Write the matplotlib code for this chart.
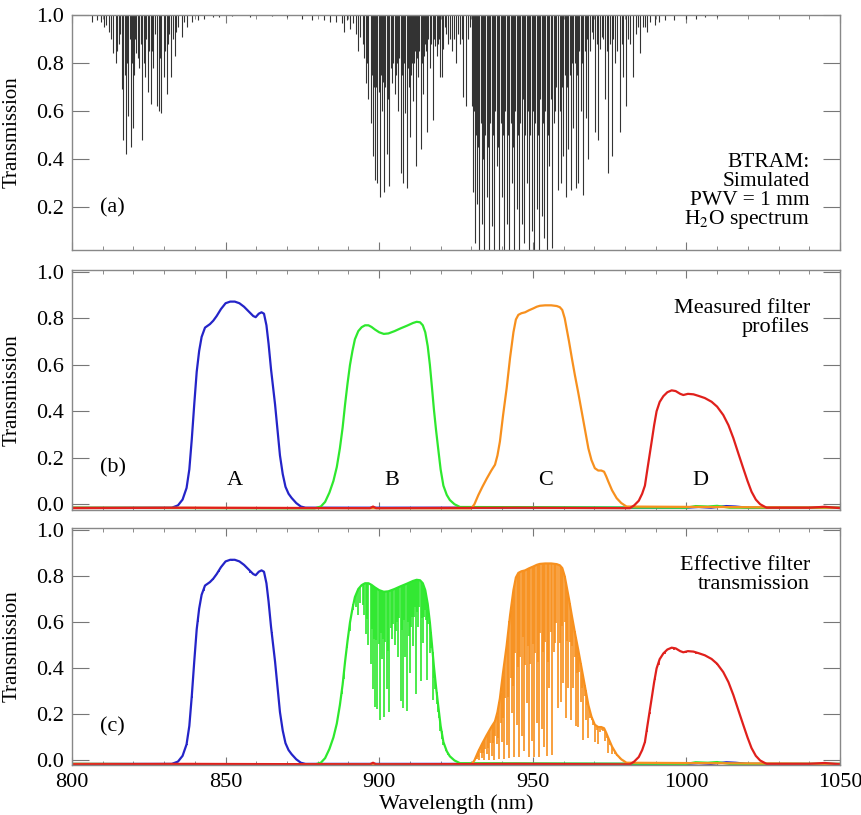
import numpy as np
import matplotlib.pyplot as plt
from matplotlib.ticker import MultipleLocator

plt.rcParams['font.family'] = ['Liberation Serif', 'DejaVu Serif']
plt.rcParams['mathtext.fontset'] = 'stix'

# ---------------- datos ----------------
# lineas de absorcion H2O (longitud de onda nm, transmision en el centro)
lin_wl = [
    # banda 810-845
    806.5, 808.0, 809.5, 810.5, 811.0, 812.2, 812.8, 813.4, 814.3, 814.7,
    815.2, 815.6, 816.2, 816.7, 817.2, 817.6, 818.0, 818.3, 818.8, 819.1,
    819.6, 820.0, 820.3, 820.5, 821.0, 821.4, 821.9, 822.4, 822.9, 823.3,
    823.8, 824.1, 824.6, 825.1, 825.6, 826.0, 826.5, 827.0, 827.6, 828.3,
    828.7, 829.0, 829.9, 830.3, 830.8, 831.1, 831.5, 832.2, 833.0, 833.5,
    834.0, 834.5, 835.7, 836.5, 837.3, 839.0, 841.0, 843.0, 846.0, 848.0,
    852.0, 858.0, 865.0, 870.0, 875.0, 878.0,
    # banda 880-930
    882.0, 884.0, 886.0, 887.8, 888.5, 889.5, 890.5, 891.6, 892.5, 893.2,
    893.8, 894.8, 895.2, 895.6, 896.0, 896.5, 897.2, 897.6, 897.9, 898.2,
    898.6, 899.0, 899.4, 899.8, 900.3, 900.7, 901.0, 901.3, 901.7, 902.0,
    902.4, 902.8, 903.3, 903.8, 904.1, 904.6, 905.1, 905.6, 905.9, 906.2,
    906.6, 907.0, 907.3, 907.6, 908.0, 908.4, 908.9, 909.4, 909.7, 910.0,
    910.3, 910.6, 911.1, 911.4, 911.6, 912.0, 912.4, 912.7, 913.0, 913.5,
    913.8, 914.4, 914.7, 914.9, 915.3, 915.7, 916.0, 916.5, 916.8, 917.4,
    917.9, 918.2, 918.7, 919.2, 919.5, 919.8, 920.3, 920.9, 921.4, 921.9,
    922.5, 923.0, 923.6, 924.3, 925.0, 925.6, 926.3, 926.9, 927.4, 928.3,
    928.8, 929.4,
    # banda 930-990
    930.1, 930.6, 930.9, 931.2, 931.5, 931.9, 932.2, 932.6, 933.0, 933.4,
    933.8, 934.1, 934.5, 935.0, 935.4, 935.8, 936.2, 936.6, 937.0, 937.4,
    937.8, 938.2, 938.6, 939.1, 939.5, 939.9, 940.2, 940.6, 941.0, 941.5,
    941.9, 942.4, 942.8, 943.1, 943.5, 943.9, 944.3, 944.8, 945.2, 945.6,
    946.0, 946.4, 946.8, 947.1, 947.6, 948.0, 948.4, 948.9, 949.2, 949.6,
    950.0, 950.4, 950.8, 951.3, 951.7, 952.1, 952.5, 952.9, 953.2, 953.6,
    954.0, 954.5, 954.9, 955.3, 955.8, 956.4, 956.8, 957.2, 957.7, 958.3,
    958.7, 959.2, 959.6, 959.9, 960.4, 960.8, 961.2, 961.6, 962.0, 962.4,
    962.8, 963.2, 963.6, 964.0, 964.4, 964.8, 965.2, 965.6, 966.0, 966.5,
    966.9, 967.2, 967.7, 968.1, 968.6, 969.2, 969.7, 970.2, 970.8, 971.3,
    971.8, 972.4, 973.0, 973.5, 974.1, 974.6, 975.2, 975.7, 976.2, 976.8,
    977.5, 978.4, 979.0, 979.5, 980.3, 981.0, 981.6, 982.7, 983.5, 984.2,
    984.9, 985.9, 986.5, 987.1, 988.0, 989.8, 991.0, 993.0, 996.0, 1000.0,
    1003.0, 1006.0, 1010.0,
]
lin_T = [
    0.97, 0.98, 0.97, 0.95, 0.96, 0.93, 0.90, 0.84, 0.80, 0.85,
    0.88, 0.92, 0.69, 0.48, 0.75, 0.42, 0.80, 0.58, 0.90, 0.45,
    0.80, 0.53, 0.75, 0.90, 0.84, 0.82, 0.78, 0.88, 0.48, 0.80,
    0.74, 0.90, 0.68, 0.85, 0.63, 0.85, 0.78, 0.92, 0.62, 0.60,
    0.82, 0.59, 0.74, 0.85, 0.67, 0.88, 0.92, 0.74, 0.90, 0.83,
    0.93, 0.95, 0.91, 0.97, 0.95, 0.97, 0.98, 0.985, 0.99, 0.99,
    0.995, 0.99, 0.995, 0.99, 0.985, 0.98,
    0.98, 0.97, 0.97, 0.965, 0.93, 0.98, 0.94, 0.965, 0.92, 0.85,
    0.91, 0.88, 0.82, 0.715, 0.80, 0.65, 0.55, 0.75, 0.41, 0.70,
    0.31, 0.70, 0.30, 0.68, 0.24, 0.75, 0.60, 0.72, 0.26, 0.70,
    0.42, 0.65, 0.285, 0.78, 0.715, 0.80, 0.67, 0.75, 0.80, 0.60,
    0.82, 0.34, 0.75, 0.30, 0.80, 0.59, 0.28, 0.78, 0.70, 0.49,
    0.75, 0.80, 0.64, 0.80, 0.85, 0.37, 0.82, 0.74, 0.85, 0.44,
    0.80, 0.67, 0.83, 0.88, 0.85, 0.51, 0.90, 0.78, 0.88, 0.56,
    0.90, 0.87, 0.83, 0.88, 0.90, 0.74, 0.74, 0.86, 0.95, 0.92,
    0.88, 0.90, 0.85, 0.90, 0.80, 0.92, 0.88, 0.90, 0.66, 0.62,
    0.90, 0.95,
    0.62, 0.26, 0.60, 0.05, 0.50, 0.21, 0.45, 0.02, 0.55, 0.13,
    0.40, 0.02, 0.50, 0.24, 0.45, 0.02, 0.55, 0.12, 0.50, 0.02,
    0.60, 0.37, 0.45, 0.02, 0.55, 0.24, 0.50, 0.02, 0.60, 0.13,
    0.50, 0.02, 0.55, 0.30, 0.45, 0.02, 0.60, 0.19, 0.50, 0.02,
    0.55, 0.13, 0.65, 0.05, 0.50, 0.30, 0.60, 0.02, 0.50, 0.10,
    0.60, 0.02, 0.55, 0.19, 0.50, 0.02, 0.65, 0.16, 0.55, 0.07,
    0.60, 0.02, 0.50, 0.37, 0.65, 0.03, 0.55, 0.60, 0.70, 0.27,
    0.60, 0.30, 0.70, 0.41, 0.75, 0.24, 0.70, 0.44, 0.75, 0.27,
    0.80, 0.53, 0.80, 0.28, 0.75, 0.30, 0.85, 0.60, 0.80, 0.25,
    0.85, 0.57, 0.90, 0.40, 0.85, 0.93, 0.90, 0.51, 0.88, 0.48,
    0.86, 0.91, 0.90, 0.65, 0.85, 0.34, 0.88, 0.41, 0.90, 0.80,
    0.85, 0.51, 0.88, 0.74, 0.62, 0.90, 0.88, 0.74, 0.92, 0.95,
    0.84, 0.95, 0.95, 0.93, 0.97, 0.96, 0.97, 0.98, 0.98, 0.985,
    0.985, 0.99, 0.99,
]

# perfiles de filtros medidos (nm, transmision)
filtA_wl = [800, 832.5, 834.5, 836.0, 837.3, 838.2, 839.0, 839.8, 840.6, 841.4,
            842.2, 843.3, 844.9, 846.0, 847.1, 848.5, 850.0, 851.5, 853.0, 854.5,
            856.0, 857.5, 859.0, 859.8, 860.8, 861.7, 862.5, 863.3, 864.0, 864.8,
            866.1, 867.7, 868.6, 869.5, 870.5, 871.5, 873.0, 874.5, 876.0,
            1000, 1004, 1008, 1013, 1016, 1020, 1050]
filtA_T = [-0.015, -0.015, -0.005, 0.02, 0.07, 0.15, 0.28, 0.43, 0.57, 0.66,
           0.72, 0.76, 0.775, 0.79, 0.81, 0.84, 0.865, 0.872, 0.872, 0.865,
           0.85, 0.83, 0.81, 0.805, 0.82, 0.826, 0.82, 0.77, 0.69, 0.58,
           0.43, 0.21, 0.13, 0.075, 0.045, 0.027, 0.005, -0.01, -0.015,
           -0.015, -0.012, -0.015, -0.008, -0.01, -0.015, -0.015]

filtB_wl = [800, 879.0, 881.0, 882.4, 883.8, 885.1, 886.2, 887.2, 888.1, 888.9,
            889.7, 890.5, 891.3, 892.1, 893.2, 894.3, 895.4, 896.5, 897.5, 898.6,
            900.0, 901.5, 903.0, 905.0, 907.0, 909.0, 911.0, 912.2, 913.3, 914.2,
            915.0, 915.8, 916.5, 917.2, 917.8, 918.5, 919.2, 920.0, 920.9, 922.0,
            923.0, 924.5, 926.3, 1000, 1003, 1007, 1010, 1014, 1050]
filtB_T = [-0.015, -0.018, -0.01, 0.01, 0.05, 0.10, 0.16, 0.24, 0.33, 0.43,
           0.52, 0.60, 0.66, 0.71, 0.745, 0.762, 0.77, 0.77, 0.763, 0.752,
           0.74, 0.733, 0.735, 0.745, 0.757, 0.768, 0.78, 0.785, 0.783, 0.77,
           0.74, 0.68, 0.60, 0.50, 0.41, 0.32, 0.24, 0.15, 0.08, 0.04,
           0.018, 0.0, -0.012, -0.015, -0.008, -0.01, -0.007, -0.015, -0.015]

filtC_wl = [800, 930.0, 931.0, 932.3, 933.6, 935.0, 936.5, 937.7, 938.5, 939.3,
            940.3, 941.5, 942.6, 943.7, 944.5, 945.3, 946.3, 947.5, 948.8, 950.2,
            951.3, 952.3, 954.0, 956.0, 957.8, 958.8, 959.6, 960.4, 961.1, 961.8,
            962.7, 963.7, 964.8, 965.9, 967.0, 968.1, 969.1, 970.2, 971.3, 972.3,
            973.2, 973.9, 974.6, 975.8, 977.3, 978.8, 980.5, 1050]
filtC_T = [-0.015, -0.018, 0.0, 0.04, 0.075, 0.11, 0.145, 0.17, 0.21, 0.27,
           0.38, 0.50, 0.63, 0.74, 0.795, 0.815, 0.822, 0.826, 0.835, 0.843,
           0.85, 0.854, 0.856, 0.856, 0.853, 0.848, 0.836, 0.80, 0.75, 0.70,
           0.63, 0.556, 0.48, 0.40, 0.32, 0.24, 0.19, 0.155, 0.145, 0.145,
           0.14, 0.12, 0.097, 0.06, 0.026, 0.005, -0.01, -0.015]

filtD_wl = [800, 838, 897, 898, 899, 945, 981.6, 983.0, 984.5, 985.6,
            986.5, 987.3, 988.0, 988.7, 989.5, 990.3, 991.3, 992.5, 993.8, 995.2,
            996.5, 998.0, 999.0, 1000.5, 1002.3, 1004.0, 1006.0, 1008.2, 1010.0, 1012.0,
            1013.7, 1015.3, 1017.0, 1018.5, 1019.9, 1021.2, 1022.6, 1024.0, 1026.1, 1040,
            1045, 1050]
filtD_T = [-0.017, -0.015, -0.017, -0.01, -0.017, -0.015, -0.017, -0.005, 0.015, 0.045,
           0.08, 0.15, 0.21, 0.27, 0.34, 0.40, 0.44, 0.465, 0.482, 0.49,
           0.487, 0.475, 0.47, 0.475, 0.473, 0.466, 0.457, 0.441, 0.42, 0.384,
           0.34, 0.284, 0.215, 0.155, 0.10, 0.054, 0.02, 0.0, -0.015, -0.015,
           -0.011, -0.017]

filtros = [(filtA_wl, filtA_T, '#2424c8'),
           (filtB_wl, filtB_T, '#2ee82e'),
           (filtC_wl, filtC_T, '#f7901e'),
           (filtD_wl, filtD_T, '#e0201c')]
letras = ['A', 'B', 'C', 'D']
letras_x = [853, 904, 954, 1004.5]

lin_wl = np.array(lin_wl)
lin_T = np.array(lin_T)

# ---------------- figura ----------------
fig = plt.figure(figsize=(8.61, 8.15), dpi=100)
axa = fig.add_axes([0.0836, 0.6933, 0.892, 0.2883])
axb = fig.add_axes([0.0836, 0.3742, 0.892, 0.2945])
axc = fig.add_axes([0.0836, 0.0613, 0.892, 0.2908])

for ax in (axa, axb, axc):
    ax.set_xlim(800, 1050)
    ax.xaxis.set_major_locator(MultipleLocator(50))
    ax.xaxis.set_minor_locator(MultipleLocator(10))
    ax.tick_params(axis='both', which='both', direction='in', top=True, right=True,
                   labelsize=16, color='#777777', pad=6)
    ax.tick_params(axis='x', which='major', length=6)
    ax.tick_params(axis='x', which='minor', length=3)
    ax.tick_params(axis='y', which='major', length=12)
    for s in ax.spines.values():
        s.set_color('#888888')
        s.set_linewidth(1.0)
    ax.set_ylabel('Transmission', fontsize=15)
    ax.yaxis.set_label_coords(-0.066, 0.5)

# (a) espectro H2O simulado
axa.vlines(lin_wl, lin_T, 1.0, color='#333333', lw=0.8)
axa.set_ylim(0.02, 1.0)
axa.set_yticks([0.2, 0.4, 0.6, 0.8, 1.0])
axa.tick_params(axis='x', labelbottom=False)
axa.text(0.036, 0.18, '(a)', transform=axa.transAxes, fontsize=16, va='center')
txt = ['BTRAM:', 'Simulated', 'PWV = 1 mm', 'H$_2$O spectrum']
for i, t in enumerate(txt):
    axa.text(0.961, 0.372 - i * 0.081, t, transform=axa.transAxes,
             fontsize=15.5, ha='right', va='center')

# (b) filtros medidos
for fx, fy, c in filtros:
    axb.plot(fx, fy, color=c, lw=1.6)
axb.set_ylim(-0.025, 1.008)
axb.set_yticks([0.0, 0.2, 0.4, 0.6, 0.8, 1.0])
axb.tick_params(axis='x', labelbottom=False)
axb.text(0.036, 0.175, '(b)', transform=axb.transAxes, fontsize=16, va='center')
for l, x in zip(letras, letras_x):
    axb.text(x, 0.10, l, fontsize=16, ha='center', va='center')
axb.text(0.961, 0.80, 'Measured filter\nprofiles', transform=axb.transAxes,
         fontsize=16, ha='right', va='center', linespacing=1.0)

# (c) transmision efectiva = filtro x espectro
for fx, fy, c in filtros:
    axc.plot(fx, fy, color=c, lw=1.6)
    sel = (lin_wl > fx[1]) & (lin_wl < fx[-2])
    top = np.interp(lin_wl[sel], fx, fy)
    ok = top > 0.005
    axc.vlines(lin_wl[sel][ok], top[ok] * lin_T[sel][ok], top[ok], color=c, lw=1.2)
axc.set_ylim(-0.02, 1.01)
axc.set_yticks([0.0, 0.2, 0.4, 0.6, 0.8, 1.0])
axc.text(0.036, 0.16, '(c)', transform=axc.transAxes, fontsize=16, va='center')
axc.text(0.961, 0.80, 'Effective filter\ntransmission', transform=axc.transAxes,
         fontsize=16, ha='right', va='center', linespacing=1.0)
axc.set_xlabel('Wavelength (nm)', fontsize=16)
axc.xaxis.set_label_coords(0.5, -0.125)

fig.savefig('out.png', dpi=100)
